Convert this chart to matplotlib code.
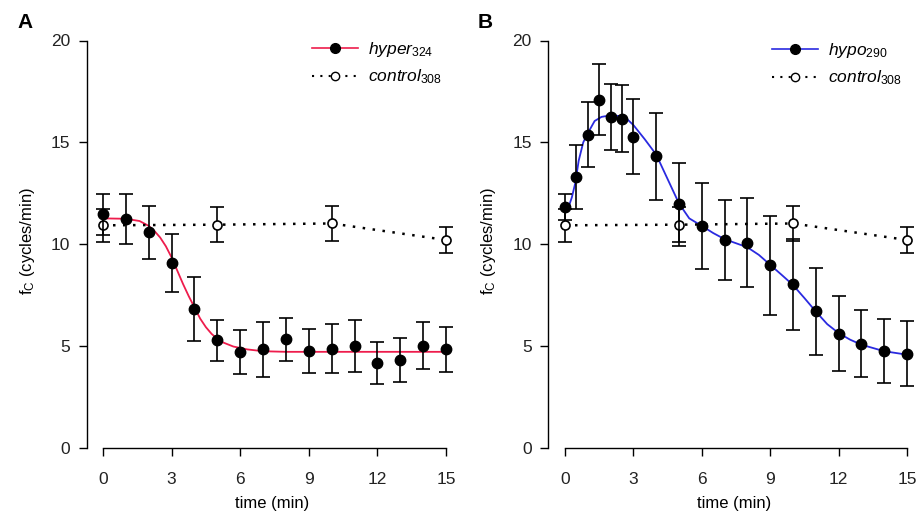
import matplotlib
matplotlib.use("Agg")
import matplotlib.pyplot as plt
from matplotlib.lines import Line2D

plt.rcParams['font.family'] = ['Liberation Sans', 'DejaVu Sans']
plt.rcParams['mathtext.fontset'] = 'custom'
plt.rcParams['mathtext.rm'] = 'Liberation Sans'
plt.rcParams['mathtext.it'] = 'Liberation Sans:italic'
plt.rcParams['mathtext.bf'] = 'Liberation Sans:bold'

# data
hyper_t = list(range(16))
hyper_fc = [11.47, 11.22, 10.60, 9.06, 6.82, 5.28, 4.71, 4.84, 5.33, 4.76, 4.87, 5.00, 4.17, 4.33, 5.03, 4.84]
hyper_err = [1.0, 1.23, 1.3, 1.42, 1.55, 1.0, 1.08, 1.35, 1.05, 1.1, 1.2, 1.27, 1.05, 1.08, 1.16, 1.1]

control_t = [0, 5, 10, 15]
control_fc = [10.93, 10.96, 11.02, 10.21]
control_err = [0.8, 0.87, 0.86, 0.62]

hypo_t = [0, 0.5, 1, 1.5, 2, 2.5, 3, 4, 5, 6, 7, 8, 9, 10, 11, 12, 13, 14, 15]
hypo_fc = [11.84, 13.31, 15.38, 17.1, 16.25, 16.17, 15.27, 14.32, 11.96, 10.91, 10.21, 10.08,
           8.96, 8.04, 6.70, 5.61, 5.12, 4.75, 4.63]
hypo_err = [0.65, 1.58, 1.6, 1.76, 1.63, 1.63, 1.84, 2.14, 2.04, 2.12, 1.96, 2.17, 2.45, 2.24,
            2.12, 1.83, 1.63, 1.58, 1.6]

# fitted curves
fit_a_t = [0, 1, 1.6, 2, 2.25, 2.5, 2.75, 3, 3.25, 3.5, 3.75, 4, 4.25, 4.5, 4.75, 5, 5.25,
           5.7, 6.3, 7, 8, 15]
fit_a = [11.27, 11.25, 11.14, 10.9, 10.65, 10.33, 9.9, 9.35, 8.7, 8.05, 7.45, 6.9, 6.35, 5.93,
         5.6, 5.36, 5.18, 4.98, 4.84, 4.75, 4.72, 4.72]

fit_b_t = [0.15, 0.3, 0.45, 0.6, 0.8, 1.0, 1.3, 1.6, 2.0, 2.6, 3.0, 3.5, 4.0, 4.5, 5.0, 5.45,
           6.0, 6.5, 7.0, 7.5, 8.0, 8.5, 9.0, 9.5, 10.0, 10.5, 11.0, 11.5, 12.0, 12.5, 13.0,
           14.0, 15.0]
fit_b = [11.8, 12.3, 13.0, 14.1, 15.0, 15.45, 16.05, 16.25, 16.33, 16.27, 15.85, 15.15, 14.4,
         13.2, 12.0, 11.27, 10.9, 10.55, 10.25, 10.05, 9.85, 9.48, 8.99, 8.5, 8.0, 7.36, 6.7,
         6.08, 5.64, 5.32, 5.07, 4.75, 4.58]

xticks = [0, 3, 6, 9, 12, 15]
yticks = [0, 5, 10, 15, 20]

W, H = 920, 516
red = '#ee1c4c'
blue = '#2a2ae0'

fig = plt.figure(figsize=(W / 100, H / 100), dpi=100)


def make_ax(left, right, top, bottom, x0px, pxmin, ylab_x):
  ax = fig.add_axes([left / W, 1 - bottom / H, (right - left) / W, (bottom - top) / H])
  ax.set_xlim((left - x0px) / pxmin, (right - x0px) / pxmin)
  ax.set_ylim(0, (448 - 35) / 20.375)
  for s in ['top', 'right']:
    ax.spines[s].set_visible(False)
  ax.spines['left'].set_bounds(0, 20)
  ax.spines['bottom'].set_bounds(0, 15)
  for s in ['left', 'bottom']:
    ax.spines[s].set_linewidth(1.0)
  ax.set_xticks(xticks)
  ax.set_yticks(yticks)
  ax.tick_params(axis='both', direction='out', length=6, width=1.0, labelsize=12.5,
                 labelcolor='#222222')
  ax.tick_params(axis='x', pad=11)
  ax.tick_params(axis='y', pad=6)
  ax.set_xlabel('time (min)', fontsize=12)
  ax.set_ylabel(r'f$_{\mathrm{C}}$ (cycles/min)', fontsize=12)
  # label coords are in axes fractions, x given in figure pixels
  ax.yaxis.set_label_coords((ylab_x - left) / (right - left), 0.5)
  ax.xaxis.set_label_coords(0.5, (448 - 496) / (bottom - top))
  return ax


def draw_control(ax):
  ax.errorbar(control_t, control_fc, yerr=control_err, fmt='none', ecolor='k',
              elinewidth=1.2, capsize=5, capthick=1.2, zorder=3)
  ax.plot(control_t, control_fc, color='k', ls=(0, (1, 3)), lw=1.8, marker='o', ms=6.5,
          mfc='white', mec='k', mew=1.2, zorder=4, clip_on=False)


def legend(ax, color, lab1, x, y):
  h1 = Line2D([], [], color=color, lw=1.2, marker='o', ms=7, mfc='k', mec='k')
  h2 = Line2D([], [], color='k', ls=(0, (1, 3)), lw=1.5, marker='o', ms=6, mfc='white', mec='k')
  ax.legend([h1, h2], [lab1, r'$\mathit{control}_{\mathit{308}}$'], loc='upper left',
            bbox_to_anchor=(x / W, 1 - y / H), bbox_transform=fig.transFigure,
            frameon=False, fontsize=12.5, handlelength=2.65, handletextpad=0.6,
            labelspacing=0.5, borderpad=0, borderaxespad=0)


# panel A
axA = make_ax(87, 458, 35, 448, 103, 22.867, 37)
axA.plot(fit_a_t, fit_a, color=red, lw=1.3, zorder=2)
draw_control(axA)
axA.errorbar(hyper_t, hyper_fc, yerr=hyper_err, fmt='o', color='k', ms=7.5,
             elinewidth=1.2, capsize=5, capthick=1.2, zorder=5)
legend(axA, red, r'$\mathit{hyper}_{\mathit{324}}$', 312, 40)

# panel B
axB = make_ax(548.5, 919, 35, 448, 565, 22.8, 498)
axB.plot(fit_b_t, fit_b, color=blue, lw=1.3, zorder=2)
draw_control(axB)
axB.errorbar(hypo_t, hypo_fc, yerr=hypo_err, fmt='o', color='k', ms=7.5,
             elinewidth=1.2, capsize=5, capthick=1.2, zorder=5)
legend(axB, blue, r'$\mathit{hypo}_{\mathit{290}}$', 772, 41)

fig.text(25 / W, 1 - 23 / H, 'A', fontsize=15, fontweight='bold', ha='center', va='center')
fig.text(485 / W, 1 - 23 / H, 'B', fontsize=15, fontweight='bold', ha='center', va='center')

fig.savefig('out.png', dpi=100)
